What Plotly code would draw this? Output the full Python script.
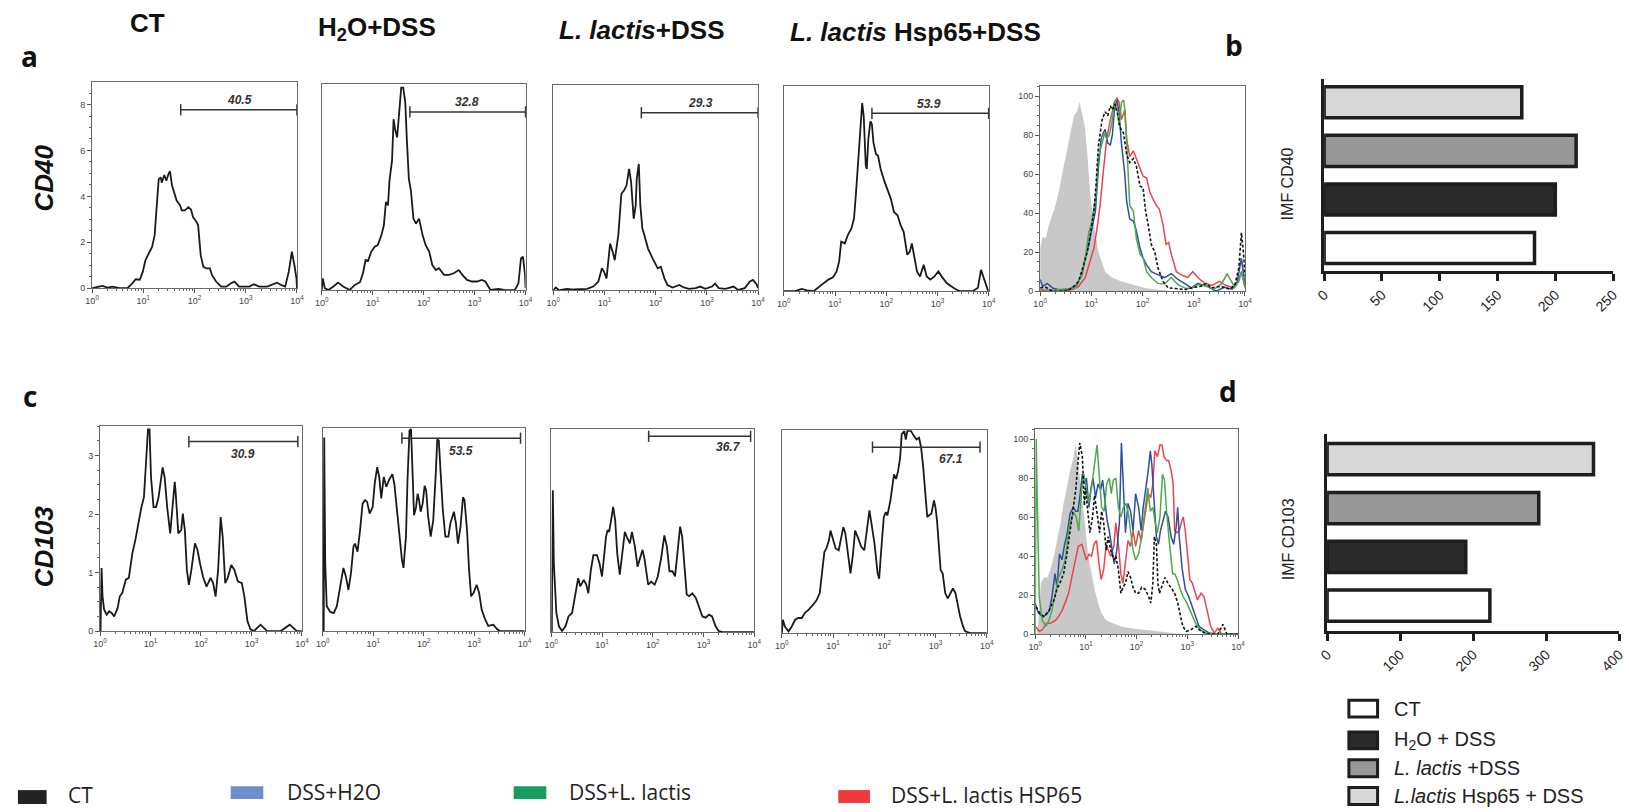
import plotly.graph_objects as go

W, H = 1629, 812

# ---------------- data: (decade = log10 fluorescence, count) ----------------
CD40_CT = [(0,0),(0.14,0.06),(0.2,0.1),(0.3,0.03),(0.4,0.07),(0.53,0),(0.69,0),(0.78,0.2),(0.85,0.39),(0.93,0.37),
           (0.99,0.72),(1.04,1.22),(1.1,1.51),(1.17,1.8),(1.22,2.3),(1.27,3.6),(1.3,4.75),(1.34,4.83),(1.36,4.6),(1.41,4.93),
           (1.45,4.68),(1.49,4.97),(1.52,5.1),(1.56,4.47),(1.61,4.1),(1.65,3.82),(1.72,3.6),(1.75,3.39),(1.81,3.39),(1.88,3.53),
           (1.93,3.43),(1.97,3.1),(2.04,2.88),(2.07,2.74),(2.12,1.44),(2.17,0.94),(2.23,0.86),(2.3,0.86),(2.34,0.58),(2.42,0.29),
           (2.52,0.07),(2.62,0.07),(2.71,0.22),(2.78,0.29),(2.87,0.07),(2.97,0.07),(3.07,0.07),(3.16,0.17),(3.26,0.07),(3.42,0.07),
           (3.61,0.24),(3.71,0.12),(3.77,0.07),(3.84,0.72),(3.9,1.59),(3.95,1.0),(3.99,0.43),(4.0,0)]
CD40_H2O = [(0,0),(0.02,0.52),(0.06,0.09),(0.13,0.01),(0.23,0.16),(0.32,0.33),(0.42,0.16),(0.55,0.01),(0.65,0.23),(0.75,0.35),
            (0.81,0.74),(0.86,1.32),(0.91,1.28),(0.97,1.68),(1.04,1.9),(1.1,1.97),(1.17,2.4),(1.22,2.84),(1.26,3.86),(1.3,3.71),
            (1.33,4.8),(1.38,5.67),(1.41,7.48),(1.44,7.04),(1.48,6.68),(1.52,7.91),(1.56,8.86),(1.6,8.86),(1.64,8.2),(1.67,6.61),
            (1.71,4.87),(1.75,4.36),(1.8,3.13),(1.85,2.91),(1.91,3.13),(1.98,2.4),(2.04,1.97),(2.11,1.68),(2.17,1.1),(2.24,0.88),
            (2.3,0.96),(2.4,0.67),(2.5,0.67),(2.59,0.74),(2.69,0.88),(2.76,0.67),(2.85,0.45),(2.95,0.38),(3.05,0.38),(3.14,0.45),
            (3.21,0.38),(3.31,0.01),(3.47,0.06),(3.6,0),(3.79,0),(3.86,0.3),(3.91,1.39),(3.95,1.46),(3.99,0.67),(4,0.09)]
CD40_LL = [(0,0),(0.05,0.12),(0.11,0),(0.27,0.06),(0.4,0.03),(0.53,0.06),(0.66,0.06),(0.78,0.16),(0.88,0.38),(0.95,0.96),
           (0.99,0.82),(1.04,0.52),(1.11,2.05),(1.16,1.69),(1.2,1.32),(1.27,2.42),(1.33,4.24),(1.38,4.38),(1.43,4.6),(1.48,5.33),
           (1.52,4.75),(1.57,3.14),(1.61,3.73),(1.63,4.89),(1.67,5.55),(1.7,3.73),(1.74,2.71),(1.78,2.42),(1.85,1.83),(1.94,1.4),
           (2.04,0.96),(2.1,1.03),(2.17,0.52),(2.23,0.23),(2.33,0.12),(2.46,0.23),(2.55,0.12),(2.65,0.06),(2.78,0.09),(2.87,0.16),
           (2.97,0.06),(3.1,0.16),(3.16,0.29),(3.23,0.09),(3.36,0.06),(3.52,0.16),(3.61,0.01),(3.74,0.09),(3.84,0.38),(3.9,0.45),
           (3.97,0.26),(4.0,0.09)]
CD40_HSP = [(0,0),(0.22,0),(0.35,0.1),(0.45,0.04),(0.58,0),(0.67,0.17),(0.77,0.36),(0.87,0.51),(0.96,0.61),(1.03,0.87),
            (1.08,1.31),(1.12,2.18),(1.19,2.1),(1.25,2.47),(1.32,2.76),(1.37,3.19),(1.41,4.35),(1.46,5.95),(1.5,7.55),(1.53,8.27),
            (1.56,7.69),(1.6,5.52),(1.62,5.37),(1.65,6.68),(1.69,7.47),(1.72,7.33),(1.75,6.53),(1.8,6.02),(1.84,5.95),(1.89,5.37),
            (1.96,4.86),(2.02,4.5),(2.09,4.06),(2.15,3.48),(2.22,3.34),(2.28,2.9),(2.34,2.61),(2.41,1.6),(2.46,1.74),(2.5,2.1),
            (2.54,1.6),(2.6,0.87),(2.66,0.65),(2.73,1.16),(2.79,0.65),(2.86,0.51),(2.94,0.65),(3.02,0.87),(3.08,0.65),(3.18,0.36),
            (3.31,0.15),(3.43,0),(3.69,0),(3.79,0.15),(3.85,0.94),(3.92,0.44),(3.98,0.07),(4,0)]

# CD40 overlay (% of max)
CD40_OV_ISO = [(0,22),(0.05,28),(0.11,27),(0.17,34),(0.3,44),(0.37,52),(0.46,64),(0.56,78),(0.66,90),(0.72,92),(0.77,97),
               (0.82,91),(0.87,85),(0.92,71),(0.98,49),(1.05,34),(1.14,20),(1.27,10),(1.4,7),(1.59,5),(1.79,3.4),(2.05,1.7),
               (2.3,0.8),(2.63,0),(4,0)]
CD40_OV_CT = [(0,1.7),(0.11,2),(0.24,0),(0.5,0),(0.63,1.7),(0.75,5),(0.85,13.5),(0.92,20),(0.98,29),(1.05,41),(1.09,54),
              (1.14,75),(1.21,88),(1.27,92),(1.32,90),(1.37,95),(1.41,93),(1.46,96),(1.52,90),(1.56,84),(1.63,81),(1.69,70),
              (1.75,66),(1.82,68),(1.88,64),(1.95,54),(2.01,53),(2.06,41),(2.11,34),(2.17,24),(2.24,20),(2.3,12),(2.4,5),
              (2.5,1.7),(2.63,1.4),(2.82,0.8),(3.01,2),(3.14,2.5),(3.24,4),(3.34,1.7),(3.53,2.5),(3.7,1),(3.8,3),(3.88,12),
              (3.93,30),(3.97,20),(4.0,8)]
CD40_OV_H2O = [(0,6),(0.05,2.5),(0.14,4),(0.24,1.7),(0.37,0.8),(0.56,0.8),(0.72,3.4),(0.82,8.5),(0.88,17),(0.95,24),(1.01,32),
               (1.08,41),(1.14,64),(1.19,78),(1.23,81),(1.27,83),(1.32,76),(1.37,75),(1.41,80),(1.45,93),(1.5,98),(1.54,92),
               (1.59,75),(1.65,61),(1.69,46),(1.75,37),(1.82,36),(1.88,31),(1.95,22),(2.01,17),(2.08,13.5),(2.17,10),(2.3,8.5),
               (2.43,7),(2.56,9),(2.69,6),(2.82,4),(2.95,1.7),(3.08,4),(3.27,2.5),(3.43,0),(3.6,2),(3.75,1),(3.85,5),(3.93,17),
               (3.97,10),(4.0,3)]
CD40_OV_LL = [(0,0),(0.37,0.8),(0.69,1.7),(0.79,7),(0.88,17),(0.95,30),(1.01,36),(1.09,49),(1.14,69),(1.21,76),(1.26,81),
              (1.3,78),(1.35,80),(1.4,86),(1.45,97),(1.5,95),(1.54,85),(1.59,97),(1.63,98),(1.66,92),(1.71,68),(1.75,44),
              (1.82,41),(1.88,27),(1.95,19),(2.01,17),(2.08,10),(2.17,7),(2.3,4),(2.43,3.7),(2.56,7),(2.69,3.4),(2.82,1.7),
              (2.95,1.4),(3.08,3.4),(3.24,2.5),(3.4,1),(3.55,4),(3.65,9),(3.72,6),(3.8,2),(3.88,5),(3.93,10),(3.97,6),(4.0,2)]
CD40_OV_HSP = [(0,0.8),(0.37,0),(0.63,0.8),(0.75,2.5),(0.88,7),(0.98,16),(1.05,22),(1.11,32),(1.17,44),(1.24,63),(1.3,78),
               (1.35,85),(1.4,92),(1.45,97),(1.5,99),(1.54,97),(1.59,88),(1.65,93),(1.69,78),(1.75,69),(1.82,72),(1.88,68),
               (1.95,63),(2.01,59),(2.08,58),(2.14,51),(2.21,47),(2.27,44),(2.33,42),(2.4,34),(2.46,24),(2.51,25),(2.56,19),
               (2.66,10),(2.75,8.5),(2.88,7),(2.98,10),(3.08,7),(3.21,4),(3.35,3),(3.5,5),(3.62,3),(3.75,2),(3.85,4),(3.93,10),
               (3.97,6),(4.0,2)]

CD103_CT = [(0.01,0),(0.03,1.08),(0.05,0.59),(0.08,0.37),(0.13,0.28),(0.18,0.34),(0.23,0.31),(0.28,0.25),(0.35,0.4),(0.39,0.59),
            (0.44,0.65),(0.51,0.88),(0.57,0.91),(0.64,1.33),(0.7,1.56),(0.77,1.9),(0.82,2.12),(0.87,2.29),(0.91,2.86),(0.95,3.45),
            (0.98,3.45),(1.01,2.63),(1.06,2.12),(1.11,2.12),(1.16,2.29),(1.2,2.6),(1.24,2.8),(1.28,2.63),(1.33,2.12),(1.39,1.67),
            (1.44,2.18),(1.48,2.55),(1.5,2.35),(1.55,1.67),(1.61,1.73),(1.64,2.01),(1.68,1.73),(1.72,1.05),(1.76,0.79),(1.81,1.05),
            (1.88,1.5),(1.93,1.39),(1.98,1.16),(2.04,0.93),(2.11,0.76),(2.19,0.91),(2.24,0.82),(2.29,0.59),(2.34,1.05),(2.39,1.95),
            (2.43,1.61),(2.48,0.82),(2.53,0.91),(2.6,1.13),(2.66,1.05),(2.73,0.85),(2.81,0.82),(2.86,0.59),(2.92,0.17),(2.98,0.03),
            (3.05,0),(3.18,0.11),(3.31,0),(3.58,0),(3.76,0.11),(3.9,0),(4,0)]
CD103_H2O = [(0.02,0),(0.03,3.34),(0.05,1.17),(0.08,0.43),(0.15,0.33),(0.22,0.31),(0.28,0.43),(0.35,0.83),(0.41,1.09),(0.46,0.94),
             (0.51,0.71),(0.56,1.0),(0.61,1.46),(0.64,1.51),(0.69,1.37),(0.74,1.74),(0.79,2.2),(0.84,2.26),(0.88,2.23),(0.93,2.03),
             (0.99,2.14),(1.03,2.54),(1.08,2.83),(1.12,2.66),(1.16,2.29),(1.21,2.66),(1.26,2.49),(1.31,2.6),(1.38,2.71),(1.42,2.54),
             (1.47,2.09),(1.52,1.57),(1.57,1.23),(1.6,1.09),(1.65,1.63),(1.68,2.6),(1.72,3.46),(1.75,3.49),(1.78,2.89),(1.81,2.0),
             (1.85,2.14),(1.88,2.37),(1.91,2.26),(1.94,2.06),(1.98,2.2),(2.02,2.51),(2.05,2.43),(2.09,1.97),(2.14,1.63),(2.19,1.91),
             (2.24,2.71),(2.27,3.31),(2.3,3.29),(2.34,2.71),(2.38,2.09),(2.43,1.63),(2.49,1.63),(2.53,1.86),(2.6,2.06),(2.64,1.86),
             (2.68,1.51),(2.73,1.8),(2.78,2.31),(2.81,2.26),(2.86,1.74),(2.9,1.06),(2.94,0.6),(2.99,0.66),(3.05,0.8),(3.1,0.66),
             (3.15,0.37),(3.22,0.2),(3.28,0.09),(3.38,0.11),(3.45,0.04),(3.51,0),(4,0)]
CD103_LL = [(0.01,0),(0.03,2.45),(0.05,1.19),(0.07,0.73),(0.1,0.33),(0.15,0.1),(0.21,0.02),(0.28,0.1),(0.34,0.27),(0.41,0.33),
            (0.47,0.67),(0.53,0.93),(0.57,0.79),(0.64,0.9),(0.69,0.82),(0.73,0.67),(0.78,1.07),(0.83,1.33),(0.9,1.33),(0.95,1.19),
            (1.0,0.96),(1.04,1.3),(1.08,1.65),(1.11,1.76),(1.14,1.73),(1.19,1.99),(1.22,2.16),(1.26,1.93),(1.3,1.36),(1.35,0.99),
            (1.4,1.36),(1.45,1.73),(1.5,1.62),(1.55,1.53),(1.59,1.73),(1.65,1.47),(1.7,1.13),(1.74,1.25),(1.8,1.42),(1.84,1.25),
            (1.91,0.82),(1.97,0.87),(2.04,0.82),(2.1,0.96),(2.17,1.3),(2.23,1.67),(2.28,1.47),(2.33,1.05),(2.39,1.05),(2.44,0.96),
            (2.49,1.36),(2.54,1.82),(2.58,1.65),(2.62,1.19),(2.67,0.65),(2.72,0.62),(2.78,0.67),(2.85,0.59),(2.91,0.45),(2.98,0.27),
            (3.04,0.25),(3.11,0.3),(3.17,0.27),(3.24,0.1),(3.3,0.02),(3.37,0),(4,0)]
CD103_HSP = [(0,0),(0.02,0.23),(0.06,0.11),(0.13,0.03),(0.19,0.11),(0.26,0.23),(0.32,0.26),(0.39,0.26),(0.45,0.35),(0.52,0.4),
             (0.61,0.49),(0.68,0.57),(0.74,0.69),(0.79,1.09),(0.83,1.4),(0.87,1.46),(0.92,1.6),(0.95,1.77),(1.0,1.6),(1.05,1.46),
             (1.11,1.43),(1.16,1.66),(1.2,1.83),(1.24,1.72),(1.29,1.37),(1.34,1.03),(1.39,1.37),(1.43,1.77),(1.48,1.66),(1.55,1.49),
             (1.61,1.43),(1.66,1.77),(1.71,2.12),(1.75,1.89),(1.81,1.54),(1.87,1.03),(1.9,0.94),(1.94,1.43),(1.99,2.0),(2.03,2.09),
             (2.06,2.03),(2.12,2.29),(2.16,2.57),(2.19,2.74),(2.23,2.66),(2.27,2.8),(2.31,3.03),(2.34,3.43),(2.39,3.49),(2.42,3.34),
             (2.45,3.49),(2.52,3.49),(2.58,3.4),(2.63,3.34),(2.68,3.37),(2.72,3.2),(2.76,2.86),(2.81,2.34),(2.84,2.0),(2.87,2.03),
             (2.92,2.06),(2.97,2.29),(3.0,2.17),(3.03,1.94),(3.06,1.49),(3.1,1.09),(3.14,1.03),(3.19,0.69),(3.24,0.6),(3.29,0.69),
             (3.34,0.77),(3.39,0.69),(3.43,0.49),(3.48,0.29),(3.54,0.11),(3.58,0.03),(3.68,0),(4,0)]

CD103_OV_ISO = [(0.03,0),(0.05,2),(0.11,26),(0.17,29),(0.24,29),(0.3,33),(0.37,40),(0.43,48),(0.5,57),(0.56,67),(0.62,75),
                (0.69,84),(0.75,90),(0.8,98),(0.84,89),(0.88,80),(0.93,70),(0.98,57),(1.04,41),(1.11,31),(1.17,23),(1.24,16),
                (1.3,11),(1.4,7),(1.53,5.6),(1.69,3.9),(1.88,3),(2.14,2.2),(2.4,1.4),(2.65,0.5),(2.91,0),(4,0)]
CD103_OV_CT = [(0.02,14),(0.08,11),(0.17,9),(0.27,12),(0.37,17.5),(0.43,23),(0.5,27),(0.56,31),(0.62,40),(0.69,53),(0.75,63),
               (0.8,74),(0.84,87),(0.88,98),(0.93,91),(0.97,66),(0.99,75),(1.03,63),(1.08,52),(1.13,60),(1.17,71),(1.22,62),
               (1.27,52),(1.31,63),(1.35,57),(1.4,43),(1.44,50),(1.49,43),(1.55,38),(1.59,40),(1.64,33),(1.69,21),(1.73,24),
               (1.78,26),(1.83,32),(1.88,29),(1.93,24),(1.98,21),(2.04,21),(2.1,24),(2.17,23),(2.24,19),(2.28,16),(2.32,26),
               (2.35,50),(2.39,46),(2.42,26),(2.45,21),(2.49,24),(2.56,29),(2.62,26),(2.69,23),(2.75,21),(2.81,16),(2.86,9),
               (2.91,4),(2.98,1.4),(3.07,2.2),(3.17,4),(3.27,1.4),(3.43,0),(3.6,0),(3.7,5),(3.78,0),(4,0)]
CD103_OV_H2O = [(0,16),(0.06,11),(0.14,9),(0.22,10),(0.28,12),(0.33,19),(0.39,31),(0.43,24),(0.48,41),(0.53,38),(0.58,46),
                (0.62,50),(0.69,62),(0.75,65),(0.8,63),(0.84,63),(0.88,70),(0.93,82),(0.97,77),(1.01,80),(1.06,65),(1.1,75),
                (1.14,80),(1.19,70),(1.24,77),(1.29,74),(1.33,79),(1.38,67),(1.42,58),(1.46,53),(1.51,45),(1.56,36),(1.61,43),
                (1.66,57),(1.7,98),(1.74,70),(1.78,52),(1.83,67),(1.88,63),(1.93,53),(1.98,72),(2.04,65),(2.09,53),(2.13,65),
                (2.19,75),(2.23,84),(2.27,94),(2.3,87),(2.34,70),(2.39,50),(2.43,46),(2.47,53),(2.52,58),(2.57,63),(2.62,60),
                (2.68,50),(2.73,46),(2.78,55),(2.81,65),(2.84,50),(2.9,33),(2.96,23),(3.03,19),(3.1,14),(3.17,9),(3.23,4),
                (3.33,2.2),(3.43,0.5),(3.56,0),(4,0)]
CD103_OV_LL = [(0,0),(0.02,100),(0.04,70),(0.08,19),(0.14,7),(0.21,4),(0.27,7),(0.33,12),(0.4,21),(0.46,29),(0.53,33),
               (0.59,38),(0.66,53),(0.72,60),(0.77,62),(0.81,60),(0.86,53),(0.91,72),(0.96,82),(1.01,74),(1.05,67),(1.11,75),
               (1.17,87),(1.22,97),(1.27,79),(1.31,65),(1.36,63),(1.41,77),(1.46,80),(1.5,72),(1.54,79),(1.59,80),(1.64,65),
               (1.69,60),(1.74,65),(1.79,67),(1.83,63),(1.88,53),(1.93,43),(1.98,38),(2.04,41),(2.1,50),(2.17,63),(2.22,75),
               (2.27,63),(2.32,65),(2.36,58),(2.41,52),(2.46,60),(2.51,82),(2.55,79),(2.59,63),(2.65,46),(2.71,31),(2.75,31),
               (2.8,28),(2.86,23),(2.92,19),(2.99,16),(3.07,11),(3.16,5.6),(3.23,3),(3.33,0.5),(3.56,0),(4,0)]
CD103_OV_HSP = [(0,4),(0.08,1.4),(0.14,2.2),(0.22,5.6),(0.3,5.6),(0.4,7),(0.46,9),(0.53,12),(0.59,16),(0.66,21),(0.72,29),
                (0.79,38),(0.85,45),(0.92,46),(0.97,41),(1.01,38),(1.06,41),(1.11,40),(1.16,46),(1.21,48),(1.25,38),(1.3,28),
                (1.35,33),(1.4,46),(1.44,43),(1.49,40),(1.55,45),(1.59,57),(1.64,46),(1.69,31),(1.73,26),(1.78,36),(1.83,48),
                (1.88,45),(1.93,53),(1.98,45),(2.04,53),(2.09,48),(2.13,55),(2.19,65),(2.23,72),(2.28,70),(2.32,77),(2.36,94),
                (2.41,91),(2.46,97),(2.5,97),(2.54,91),(2.59,89),(2.63,89),(2.68,84),(2.72,77),(2.75,53),(2.79,52),(2.84,53),
                (2.89,58),(2.92,60),(2.96,53),(3.0,40),(3.05,28),(3.1,26),(3.16,21),(3.2,17.5),(3.27,21),(3.33,19),(3.4,11),
                (3.46,4),(3.53,0.5),(3.6,3),(3.68,0),(4,0)]

# gates (decades) and percentages
GATE40_START = [1.73, 1.73, 1.72, 1.72]
GATE40_END = [4.0, 4.0, 4.0, 4.0]
GATE40_LEVEL = [7.77, 7.8, 7.8, 7.82]
GATE40_PCT = ["40.5", "32.8", "29.3", "53.9"]
GATE40_LABEL_X = [2.87, 2.85, 2.87, 2.83]
GATE40_LABEL_Y = [8.2, 8.22, 8.22, 8.22]

GATE103_START = [1.76, 1.57, 1.92, 1.77]
GATE103_END = [3.92, 3.92, 3.93, 3.87]
GATE103_LEVEL = [3.24, 3.33, 3.38, 3.21]
GATE103_PCT = ["30.9", "53.5", "36.7", "67.1"]
GATE103_LABEL_X = [2.84, 2.74, 3.5, 3.31]
GATE103_LABEL_Y = [3.02, 3.11, 3.19, 3.01]

# bar charts (IMF)
GROUPS = ["CT", "H<sub>2</sub>O + DSS", "<i>L. lactis</i> +DSS", "<i>L.lactis</i> Hsp65 + DSS"]
GROUP_POS = [0, 1, 2, 3]
IMF_CD40 = [182, 200, 218, 171]
IMF_CD103 = [223, 190, 290, 365]
BAR_COLORS = ["#ffffff", "#2a2a2a", "#979797", "#d6d7d6"]

HEADERS = ["<b>CT</b>", "<b>H<sub>2</sub>O+DSS</b>", "<b><i>L. lactis</i>+DSS</b>", "<b><i>L. lactis</i> Hsp65+DSS</b>"]
OVERLAY_NAMES = ["CT", "DSS+H2O", "DSS+L. lactis", "DSS+L. lactis HSP65"]
OVERLAY_COLORS = ["#222222", "#6f8fcb", "#169c5c", "#ef3a3f"]
LINE_COLORS = {"ct": "#111111", "h2o": "#2e4f9e", "ll": "#4ea94b", "hsp": "#e8454d"}

XTICK_VALS = [1, 10, 100, 1000, 10000]
XTICK_TEXT = ["10<sup>0</sup>", "10<sup>1</sup>", "10<sup>2</sup>", "10<sup>3</sup>", "10<sup>4</sup>"]
MINOR_VALS = [k * 10 ** n for n in range(4) for k in range(2, 10)]

# ---------------- layout helpers ----------------
def px(x):
    return x / W

def py(y):
    return 1 - y / H

def nm(a, i):
    return a if i == 1 else f"{a}{i}"

fig = go.Figure()

PANELS = [
    dict(box=(83, 83, 290, 290), yr=[0, 8.96], yt=dict(dtick=2, minor=0.5)),
    dict(box=(315, 85, 521, 292), yr=[0, 9], yt=None),
    dict(box=(549, 86, 756, 292), yr=[0, 9], yt=None),
    dict(box=(782, 87, 989, 293), yr=[0, 9], yt=None),
    dict(box=(1041, 87, 1248, 293), yr=[0, 105], yt=dict(dtick=20, minor=5)),
    dict(box=(91, 429, 295, 635), yr=[0, 3.5], yt=dict(dtick=1, minor=0.25)),
    dict(box=(316, 431, 520, 635), yr=[0, 3.5], yt=None),
    dict(box=(547, 432, 752, 636), yr=[0, 3.5], yt=None),
    dict(box=(780, 433, 987, 637), yr=[0, 3.5], yt=None),
    dict(box=(1036, 432, 1241, 638), yr=[0, 105], yt=dict(dtick=20, minor=5)),
]

TICKFONT = dict(family="Liberation Sans, Arial", size=9, color="#444")

layout = dict(width=W, height=H, margin=dict(l=0, r=0, t=0, b=0),
              paper_bgcolor="white", plot_bgcolor="white", showlegend=False)

for i, p in enumerate(PANELS, start=1):
    l, t, r, b = p["box"]
    layout[nm("xaxis", i)] = dict(
        domain=[px(l), px(r)], anchor=nm("y", i), type="log", range=[0, 4],
        tickmode="array", tickvals=XTICK_VALS, ticktext=XTICK_TEXT,
        ticks="outside", ticklen=4, tickwidth=1, tickcolor="#555",
        minor=dict(tickmode="array", tickvals=MINOR_VALS, ticks="outside", ticklen=2, tickcolor="#666", showgrid=False),
        showline=True, mirror=True, linecolor="#6a6a6a", linewidth=1,
        showgrid=False, zeroline=False, tickfont=TICKFONT, fixedrange=True)
    ya = dict(domain=[py(b), py(t)], anchor=nm("x", i), range=p["yr"],
              showline=True, mirror=True, linecolor="#6a6a6a", linewidth=1,
              showgrid=False, zeroline=False, tickfont=TICKFONT, fixedrange=True)
    if p["yt"]:
        ya.update(tickmode="linear", tick0=0, dtick=p["yt"]["dtick"], ticks="outside", ticklen=4,
                  tickcolor="#555", minor=dict(dtick=p["yt"]["minor"], ticks="outside", ticklen=2, tickcolor="#666"))
    else:
        ya.update(showticklabels=False, ticks="")
    layout[nm("yaxis", i)] = ya


def add_curve(i, pts, color, width=1.8, dash="solid", fill=False):
    xs = [10 ** d for d, _ in pts]
    ys = [v for _, v in pts]
    tr = dict(x=xs, y=ys, mode="lines", xaxis=nm("x", i), yaxis=nm("y", i), hoverinfo="skip")
    if fill:
        tr.update(fill="tozeroy", fillcolor="#c8c8c8", line=dict(width=0, color="#c8c8c8"))
    else:
        tr.update(line=dict(color=color, width=width, dash=dash))
    fig.add_trace(go.Scatter(**tr))


for k, pts in enumerate([CD40_CT, CD40_H2O, CD40_LL, CD40_HSP]):
    add_curve(k + 1, pts, "#1a1a1a")
for k, pts in enumerate([CD103_CT, CD103_H2O, CD103_LL, CD103_HSP]):
    add_curve(k + 6, pts, "#1a1a1a")

for idx, (iso, ct, h2o, ll, hsp) in [(5, (CD40_OV_ISO, CD40_OV_CT, CD40_OV_H2O, CD40_OV_LL, CD40_OV_HSP)),
                                      (10, (CD103_OV_ISO, CD103_OV_CT, CD103_OV_H2O, CD103_OV_LL, CD103_OV_HSP))]:
    add_curve(idx, iso, None, fill=True)
    add_curve(idx, hsp, LINE_COLORS["hsp"], width=1.5)
    add_curve(idx, h2o, LINE_COLORS["h2o"], width=1.5)
    add_curve(idx, ll, LINE_COLORS["ll"], width=1.5)
    add_curve(idx, ct, LINE_COLORS["ct"], width=1.6, dash="3px,2px")

annotations = []


def paper_text(x, y, text, font, angle=0, xanchor="center", yanchor="middle"):
    annotations.append(dict(xref="paper", yref="paper", x=px(x), y=py(y), text=text, showarrow=False,
                            textangle=angle, xanchor=xanchor, yanchor=yanchor, font=font))


def add_gates(first, starts, ends, levels, pcts, lx, ly):
    for k in range(4):
        i = first + k
        fig.add_trace(go.Scatter(
            x=[10 ** starts[k], 10 ** ends[k]], y=[levels[k], levels[k]], mode="lines+markers",
            line=dict(color="#333", width=1.5),
            marker=dict(symbol="line-ns", size=8, line=dict(color="#333", width=1.5)),
            xaxis=nm("x", i), yaxis=nm("y", i), hoverinfo="skip", cliponaxis=False))
        annotations.append(dict(xref=nm("x", i), yref=nm("y", i), x=lx[k], y=ly[k],
                                xanchor="center", yanchor="middle",
                                text=f"<b><i>{pcts[k]}</i></b>", showarrow=False,
                                font=dict(family="Liberation Sans, Arial", size=12, color="#333")))


add_gates(1, GATE40_START, GATE40_END, GATE40_LEVEL, GATE40_PCT, GATE40_LABEL_X, GATE40_LABEL_Y)
add_gates(6, GATE103_START, GATE103_END, GATE103_LEVEL, GATE103_PCT, GATE103_LABEL_X, GATE103_LABEL_Y)

# bar charts
BARS = [dict(i=11, vals=IMF_CD40, box=(1328, 79, 1620, 273), xr=[0, 250], dt=50, yr=[-0.48, 3.49], title="IMF CD40", tpos=(1291, 185)),
        dict(i=12, vals=IMF_CD103, box=(1331, 437, 1626, 635), xr=[0, 400], dt=100, yr=[-0.52, 3.51], title="IMF CD103", tpos=(1292, 543))]
for bc in BARS:
    i = bc["i"]
    l, t, r, b = bc["box"]
    fig.add_trace(go.Bar(x=bc["vals"], y=GROUP_POS, orientation="h", width=0.64,
                         marker=dict(color=BAR_COLORS, line=dict(color="#1e1e1e", width=3.5)),
                         xaxis=nm("x", i), yaxis=nm("y", i), hoverinfo="skip"))
    layout[nm("xaxis", i)] = dict(domain=[px(l), px(r)], anchor=nm("y", i), range=bc["xr"], tickmode="linear",
                                  tick0=0, dtick=bc["dt"], ticks="outside", ticklen=7, tickwidth=3, tickcolor="#1e1e1e",
                                  showline=True, linecolor="#1e1e1e", linewidth=3, showgrid=False, zeroline=False,
                                  tickangle=-45, tickfont=dict(family="Liberation Sans, Arial", size=14, color="#222"),
                                  fixedrange=True)
    layout[nm("yaxis", i)] = dict(domain=[py(b), py(t)], anchor=nm("x", i), range=bc["yr"], showticklabels=False,
                                  ticks="", showline=True, linecolor="#1e1e1e", linewidth=3, showgrid=False,
                                  zeroline=False, fixedrange=True)
    paper_text(bc["tpos"][0], bc["tpos"][1], bc["title"],
               dict(family="Liberation Sans, Arial", size=16, color="#222"), angle=-90)

# column headers
HEADER_POS = [(139, 23), (371, 29), (638, 30), (915, 32)]
for txt, (x, y) in zip(HEADERS, HEADER_POS):
    paper_text(x, y, txt, dict(family="Liberation Sans, Arial", size=26, color="#111"))

# panel letters
for txt, (x, y) in [("a", (20, 56)), ("b", (1237, 45)), ("c", (20, 398)), ("d", (1231, 393))]:
    paper_text(x, y, f"<b>{txt}</b>", dict(family="Open Sans", size=28, color="#111"))

# row labels
for txt, (x, y) in [("CD40", (34, 179)), ("CD103", (34, 550))]:
    paper_text(x, y, f"<b><i>{txt}</i></b>", dict(family="Liberation Sans, Arial", size=26, color="#111"), angle=-90)

shapes = []
# bottom-left overlay legend
OV_LEG_X = [(8, 37, 57), (223, 256, 278), (509, 542, 563), (837, 869, 888)]
OV_LEG_Y = [(795, 809), (791, 804), (791, 804), (795, 808)]
OV_TEXT_Y = [800, 797, 797, 800]
for (x0, x1, xt), (y0, y1), ty, name, col in zip(OV_LEG_X, OV_LEG_Y, OV_TEXT_Y, OVERLAY_NAMES, OVERLAY_COLORS):
    shapes.append(dict(type="rect", xref="paper", yref="paper", x0=px(x0), x1=px(x1), y0=py(y1), y1=py(y0),
                       fillcolor=col, line=dict(width=0)))
    paper_text(xt, ty, name, dict(family="Open Sans", size=21, color="#222"), xanchor="left")

# bar legend (right-bottom)
BAR_LEG_Y = [(703, 723), (735, 755), (763, 783), (791, 811)]
for (y0, y1), name, col in zip(BAR_LEG_Y, GROUPS, BAR_COLORS):
    shapes.append(dict(type="rect", xref="paper", yref="paper", x0=px(1353), x1=px(1382), y0=py(y1 - 1.5),
                       y1=py(y0 + 1.5), fillcolor=col, line=dict(color="#1e1e1e", width=3)))
    paper_text(1397, (y0 + y1) / 2, name, dict(family="Liberation Sans, Arial", size=20, color="#222"), xanchor="left")

layout["annotations"] = annotations
layout["shapes"] = shapes
fig.update_layout(**layout)
fig.write_html("out.html")
